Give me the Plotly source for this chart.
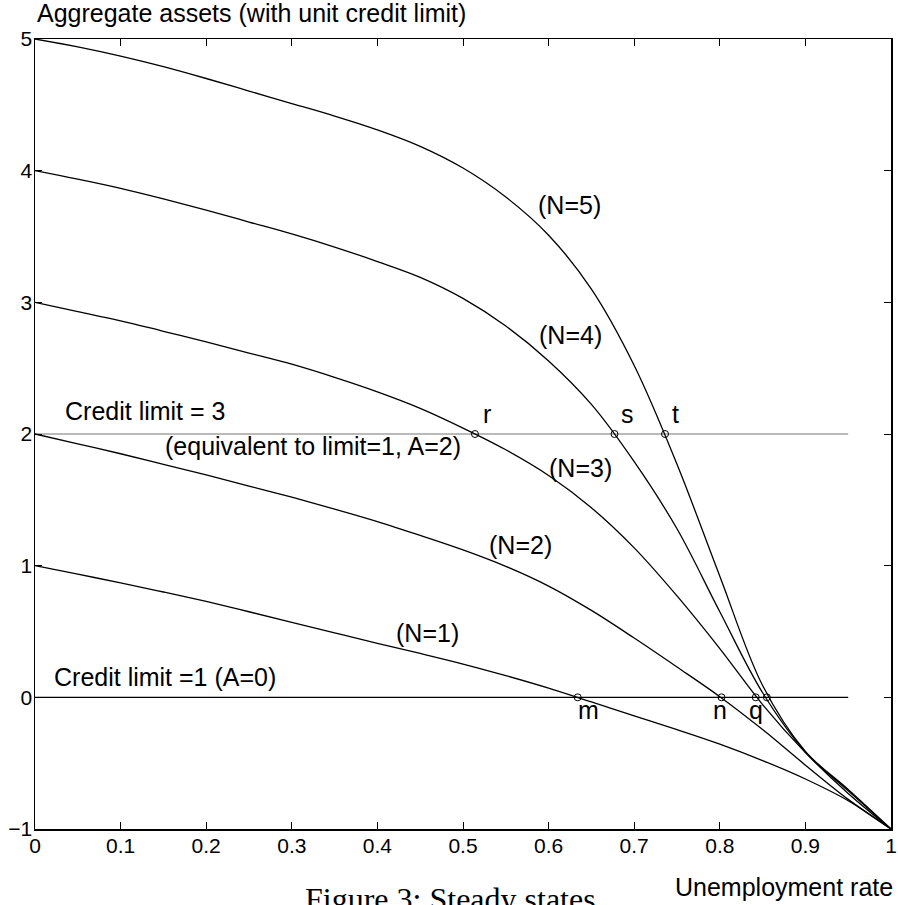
import plotly.graph_objects as go

# ---- data ----
x_grid = [0, 0.05, 0.1, 0.15, 0.2, 0.25, 0.3, 0.35, 0.4, 0.45, 0.5,
          0.55, 0.6, 0.65, 0.7, 0.75, 0.8, 0.85, 0.9, 0.95, 1]

y_n1 = [1, 0.935, 0.87, 0.80, 0.728, 0.65, 0.57, 0.49, 0.41, 0.333, 0.253,
        0.165, 0.07, -0.035, -0.14, -0.245, -0.355, -0.48, -0.62, -0.785, -1]
y_n2 = [2, 1.925, 1.85, 1.77, 1.69, 1.605, 1.52, 1.43, 1.335, 1.23, 1.12,
        0.995, 0.845, 0.66, 0.45, 0.23, 0.005, -0.245, -0.515, -0.775, -1]
y_n3 = [3, 2.93, 2.86, 2.78, 2.70, 2.615, 2.53, 2.43, 2.32, 2.195, 2.045,
        1.88, 1.685, 1.44, 1.135, 0.77, 0.37, -0.055, -0.42, -0.73, -1]
y_n4 = [4, 3.935, 3.865, 3.785, 3.70, 3.61, 3.52, 3.42, 3.31, 3.19, 3.03,
        2.82, 2.555, 2.225, 1.79, 1.28, 0.65, 0.035, -0.415, -0.71, -1]
y_n5 = [5, 4.94, 4.87, 4.79, 4.70, 4.605, 4.51, 4.415, 4.31, 4.185, 4.02,
        3.80, 3.51, 3.10, 2.52, 1.77, 0.92, 0.09, -0.41, -0.70, -1]

curves = [y_n1, y_n2, y_n3, y_n4, y_n5]

limit_x = [0, 0.95]
limit_levels = [0, 2]
limit_colors = ["#000000", "#777777"]

pt_x = [0.514, 0.677, 0.736, 0.634, 0.802, 0.842, 0.855]
pt_y = [2, 2, 2, 0, 0, 0, 0]

x_ticks = [0, 0.1, 0.2, 0.3, 0.4, 0.5, 0.6, 0.7, 0.8, 0.9, 1]
y_ticks = [-1, 0, 1, 2, 3, 4, 5]

curve_labels = [("(N=1)", 0.4585, 0.49), ("(N=2)", 0.5676, 1.157), ("(N=3)", 0.637, 1.739),
                ("(N=4)", 0.625, 2.754), ("(N=5)", 0.624, 3.739)]
point_labels = [("r", 0.5286, 2.15), ("s", 0.692, 2.15), ("t", 0.7477, 2.15),
                ("m", 0.6464, -0.098), ("n", 0.7998, -0.098), ("q", 0.842, -0.098)]
left_labels = [("Credit limit = 3", 0.033, 2.178), ("(equivalent to limit=1, A=2)", 0.150, 1.909),
               ("Credit limit =1 (A=0)", 0.0195, 0.153)]

SANS = "Liberation Sans, Arial, Helvetica, sans-serif"

fig = go.Figure()

for lvl, col in zip(limit_levels, limit_colors):
    fig.add_trace(go.Scatter(x=limit_x, y=[lvl, lvl], mode="lines",
                             line=dict(color=col, width=1.2), hoverinfo="skip"))

for cy in curves:
    fig.add_trace(go.Scatter(x=x_grid, y=cy, mode="lines",
                             line=dict(color="black", width=1.3, shape="spline", smoothing=1.0),
                             hoverinfo="skip"))

fig.add_trace(go.Scatter(x=pt_x, y=pt_y, mode="markers",
                         marker=dict(symbol="circle-open", size=7, color="black",
                                     line=dict(width=1, color="black")),
                         hoverinfo="skip"))

annotations = []
for txt, ax, ay in curve_labels + point_labels:
    annotations.append(dict(text=txt, x=ax, y=ay, xref="x", yref="y", showarrow=False,
                            xanchor="center", yanchor="middle",
                            font=dict(family=SANS, size=25, color="black")))
for txt, ax, ay in left_labels:
    annotations.append(dict(text=txt, x=ax, y=ay, xref="x", yref="y", showarrow=False,
                            xanchor="left", yanchor="middle",
                            font=dict(family=SANS, size=25, color="black")))

annotations.append(dict(text="Aggregate assets (with unit credit limit)", x=0.0, y=1.0335,
                        xref="paper", yref="paper", showarrow=False, xanchor="left",
                        yanchor="middle", font=dict(family=SANS, size=25, color="black")))
annotations.append(dict(text="Unemployment rate", x=1.0047, y=-0.074,
                        xref="paper", yref="paper", showarrow=False, xanchor="right",
                        yanchor="middle", font=dict(family=SANS, size=25, color="black")))
annotations.append(dict(text="Figure 3: Steady states", x=0.4854, y=-0.063,
                        xref="paper", yref="paper", showarrow=False, xanchor="center",
                        yanchor="top", font=dict(family="Liberation Serif, DejaVu Serif, serif",
                                                 size=32, color="black")))

fig.update_layout(
    width=898, height=905,
    margin=dict(l=35, r=7, t=39, b=76, autoexpand=False),
    paper_bgcolor="white", plot_bgcolor="white",
    showlegend=False,
    annotations=annotations,
    xaxis=dict(range=[0, 1], tickvals=x_ticks, ticktext=[f"{v:g}" for v in x_ticks],
               ticks="inside", ticklen=7, tickwidth=1, tickcolor="black",
               showline=True, linecolor="black", linewidth=1.5, mirror="ticks",
               showgrid=False, zeroline=False, automargin=False, ticklabeloverflow="allow",
               ticklabelstandoff=-3,
               tickfont=dict(family=SANS, size=21, color="black")),
    yaxis=dict(range=[-1, 5], tickvals=y_ticks,
               ticktext=[("\u2212" + str(abs(v))) if v < 0 else str(v) for v in y_ticks],
               ticks="inside", ticklen=7, tickwidth=1, tickcolor="black",
               showline=True, linecolor="black", linewidth=1.5, mirror="ticks",
               showgrid=False, zeroline=False, automargin=False, ticklabeloverflow="allow",
               ticklabelstandoff=-3,
               tickfont=dict(family=SANS, size=21, color="black")),
)

# remove the browser's default 8px body margin so the figure fills the window exactly
fig.write_html("out.html", config={"displayModeBar": False, "staticPlot": True},
               post_script="document.body.style.margin='0';")
